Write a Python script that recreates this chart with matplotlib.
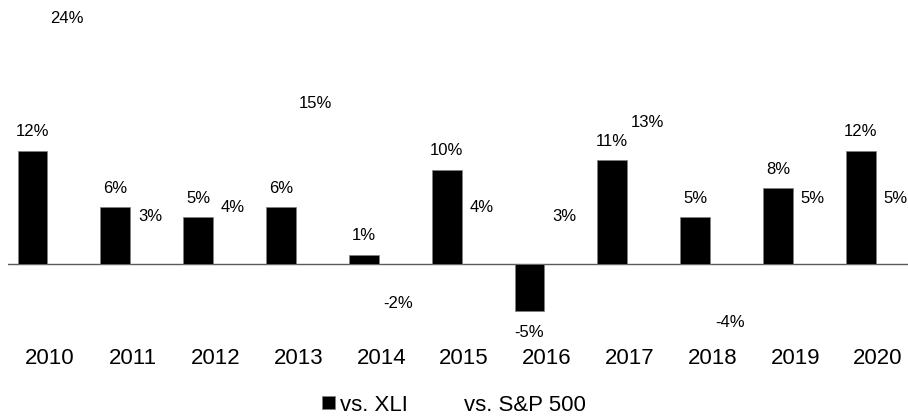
#!/usr/bin/env python3
"""Relative performance bar chart: vs. XLI and vs. S&P 500, 2010-2020."""

import matplotlib
matplotlib.use("Agg")
import matplotlib.pyplot as plt
import numpy as np

years = ["2010", "2011", "2012", "2013", "2014", "2015",
         "2016", "2017", "2018", "2019", "2020"]
vs_xli = [12, 6, 5, 6, 1, 10, -5, 11, 5, 8, 12]
vs_sp500 = [24, 3, 4, 15, -2, 4, 3, 13, -4, 5, 5]

plt.rcParams["font.family"] = ["Liberation Sans", "DejaVu Sans"]

W, H = 908, 419
fig = plt.figure(figsize=(W / 100, H / 100), dpi=100)

# axes box in pixel terms: left edge 8px, bottom 340px from top
ax = fig.add_axes([8 / W, 1 - 340 / H, 1 - 8 / W, 340 / H])

x = np.arange(len(years))
width = 0.36
off = 0.21

ax.axhline(0, color="#5a5a5a", lw=1.0, zorder=1)
b1 = ax.bar(x - off, vs_xli, width, color="black", edgecolor="#7f7f7f",
            linewidth=0.5, label="vs. XLI", zorder=2)
b2 = ax.bar(x + off, vs_sp500, width, color="white", edgecolor="white",
            linewidth=0.5, label="vs. S&P 500", zorder=0)

# value labels above/below the bar ends
for bars, vals in ((b1, vs_xli), (b2, vs_sp500)):
    for rect, v in zip(bars, vals):
        cx = rect.get_x() + rect.get_width() / 2
        dy = 13.5 if v >= 0 else -15
        ax.annotate(f"{v}%", (cx, v), xytext=(0, dy), textcoords="offset points",
                    ha="center", va="center", fontsize=12)

ax.set_xlim(-0.507, 10.362)
ax.set_ylim(-76 / 9.44, 264 / 9.44)
ax.set_xticks(x)
ax.set_xticklabels(years, fontsize=16)
ax.tick_params(axis="x", length=0, pad=6)
ax.set_yticks([])
for s in ax.spines.values():
    s.set_visible(False)

fig.legend(handles=[b1, b2], loc="center", bbox_to_anchor=(0.5, 1 - 405 / H),
           ncol=2, frameon=False, fontsize=16, handlelength=0.55,
           handleheight=0.55, handletextpad=0.25, columnspacing=1.7)

fig.savefig("out.png", dpi=100)
